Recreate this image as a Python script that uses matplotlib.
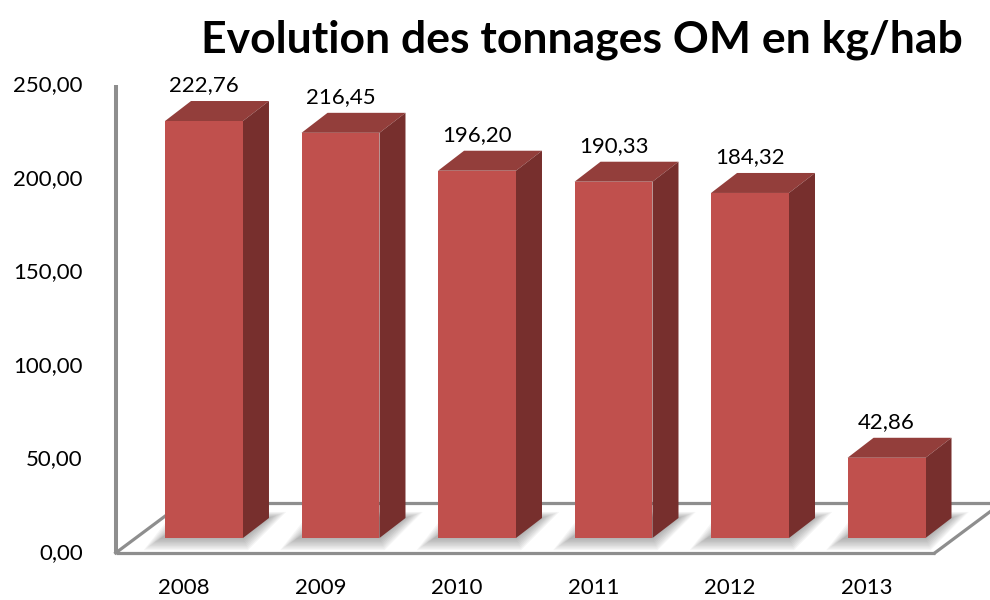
import matplotlib
matplotlib.use('Agg')
import matplotlib.pyplot as plt
from matplotlib.patches import Polygon
import numpy as np

# ---- data ----
years = ['2008', '2009', '2010', '2011', '2012', '2013']
values = [222.76, 216.45, 196.20, 190.33, 184.32, 42.86]
yticks = [0, 50, 100, 150, 200, 250]
title = 'Evolution des tonnages OM en kg/hab'

def fr(v):
    return f'{v:.2f}'.replace('.', ',')

plt.rcParams['font.family'] = ['Lato', 'DejaVu Sans']

FRONT = '#C0504D'
TOP = '#933E3B'
SIDE = '#772F2D'
GRID = '#8E8E8E'

fig = plt.figure(figsize=(9.9, 6.0), dpi=100)
ax = fig.add_axes([0, 0, 1, 1])
ax.set_xlim(-1.4945, 5.758)
ax.set_ylim(-33.12, 287.4)
ax.axis('off')

x = np.arange(len(years))
w = 0.571
bdx, bdy = 0.1905, 10.68      # bar depth vector
fdx, fdy = 0.491, 26.7        # floor depth vector
ox, oy = -0.3 * fdx, -0.3 * fdy

# floor
xl = x[0] - 0.5 + ox
xr = x[-1] + 0.5 + ox
lw = 2.3
ax.plot([xl, xr], [oy, oy], color=GRID, lw=lw, zorder=1, solid_capstyle='butt')
ax.plot([xl, xl + fdx], [oy, oy + fdy], color=GRID, lw=lw, zorder=1)
ax.plot([xr, xr + fdx], [oy, oy + fdy], color=GRID, lw=lw, zorder=1)
ax.plot([xl + fdx, xr + fdx], [oy + fdy, oy + fdy], color=GRID, lw=lw, zorder=1)
# vertical axis line
ax.plot([xl, xl], [oy, oy + yticks[-1]], color=GRID, lw=lw + 0.6, zorder=1,
        solid_capstyle='butt')

for t in yticks:
    ax.text(xl - 0.24, oy + t, fr(t), ha='right', va='center', fontsize=16)

# shadows
for xi in x:
    for k in range(9):
        e = 0.014 * (k + 1)
        ey = 1.2 * (k + 1)
        pts = [(xi - w / 2 - e - 0.03, -ey * 0.6),
               (xi + w / 2 + e * 0.3, -ey * 0.6),
               (xi + w / 2 + bdx + e, bdy + ey * 0.3),
               (xi - w / 2 + bdx - e, bdy + ey * 0.3)]
        ax.add_patch(Polygon(pts, closed=True, facecolor='#505050',
                             edgecolor='none', alpha=0.055, zorder=2))

# bars
ax.bar(x, values, width=w, bottom=0, color=FRONT, zorder=4, linewidth=0)
for xi, v in zip(x, values):
    top = [(xi - w / 2, v), (xi + w / 2, v), (xi + w / 2 + bdx, v + bdy),
           (xi - w / 2 + bdx, v + bdy)]
    side = [(xi + w / 2, 0), (xi + w / 2, v), (xi + w / 2 + bdx, v + bdy),
            (xi + w / 2 + bdx, bdy)]
    ax.add_patch(Polygon(top, closed=True, facecolor=TOP, edgecolor='none', zorder=3))
    ax.add_patch(Polygon(side, closed=True, facecolor=SIDE, edgecolor='none', zorder=3))
    ax.text(xi, v + bdy + 3, fr(v), ha='center', va='bottom', fontsize=16)

for xi, yr in zip(x, years):
    ax.text(xi + ox, oy - 18.7, yr, ha='center', va='center', fontsize=16)

fig.text(0.588, 0.933, title, ha='center', va='center', fontsize=32,
         fontweight='bold')

fig.savefig('out.png', dpi=100)
